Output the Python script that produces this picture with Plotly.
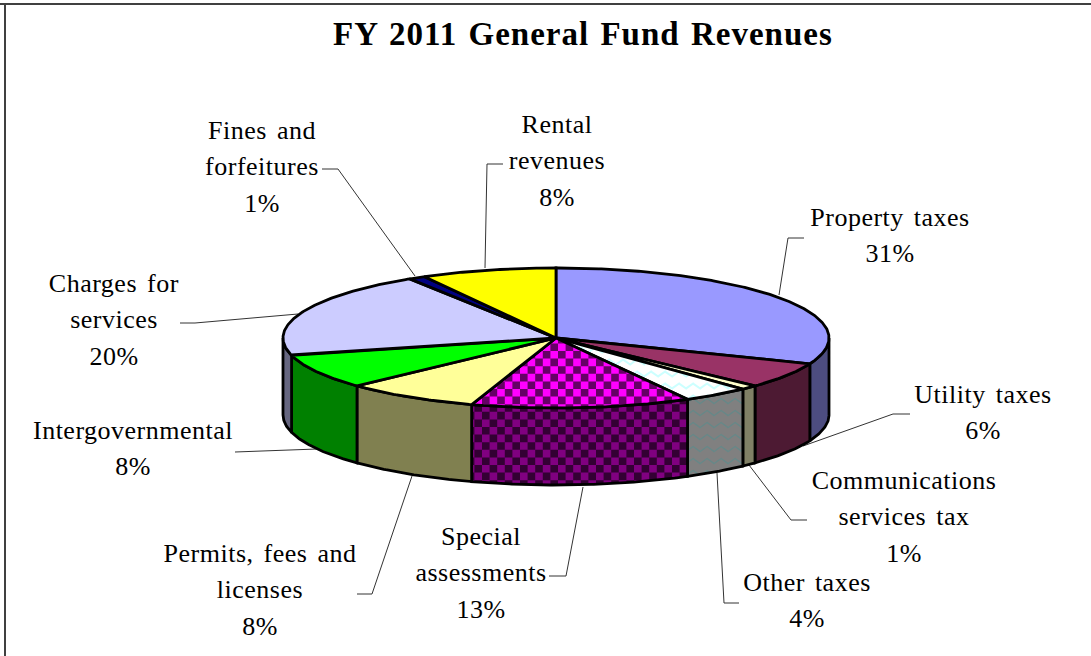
import numpy as np
import plotly.graph_objects as go

# ---- data ----
categories = ["Property taxes", "Utility taxes", "Communications services tax", "Other taxes",
              "Special assessments", "Permits, fees and licenses", "Intergovernmental",
              "Charges for services", "Fines and forfeitures", "Rental revenues"]
values = [31, 6, 1, 4, 13, 8, 8, 20, 1, 8]
top_colors = ["#9999FF", "#993366", "#FFFFCC", "#FFFFFF", "#FF00FF",
              "#FFFF99", "#00FF00", "#CCCCFF", "#000080", "#FFFF00"]
side_colors = ["#4D4D80", "#4D1A33", "#808066", "#808080", "#800080",
               "#808050", "#008000", "#666680", "#000040", "#808000"]
title_text = "FY 2011 General Fund Revenues"
label_lines = [["Property taxes"], ["Utility taxes"], ["Communications", "services tax"],
               ["Other taxes"], ["Special", "assessments"], ["Permits, fees and", "licenses"],
               ["Intergovernmental"], ["Charges for", "services"], ["Fines and", "forfeitures"],
               ["Rental", "revenues"]]

# ---- layout constants (pixels) ----
W, H = 1091, 656
CX, CY, RX, RY, DEPTH = 556, 338, 273, 70, 77
FONT = "Liberation Serif"
label_pos = [(890, 217), (983, 394), (904, 480), (807, 582), (481, 536),
             (260, 553), (133, 430), (114, 283), (262, 130), (557, 124)]
LINE_GAP = 36.7
leaders = [
    [(779, 295), (788, 238), (804, 238)],
    [(803, 446), (893, 414), (910, 414)],
    [(749, 465), (791, 520), (807, 520)],
    [(717, 473), (724, 603), (739, 603)],
    [(583, 487), (566, 576), (549, 576)],
    [(412, 476), (372, 594), (357, 594)],
    [(317, 449), (235, 452)],
    [(298, 314), (195, 323), (180, 323)],
    [(415, 276), (338, 169), (322, 169)],
    [(485, 268), (487, 164), (503, 164)],
]


def ell(theta, dy=0.0):
    t = np.radians(theta)
    return CX + RX * np.sin(t), CY - RY * np.cos(t) + dy


def sector(a, b):
    th = np.linspace(a, b, max(4, int(abs(b - a) * 2)))
    x, y = ell(th)
    return [(CX, CY)] + list(zip(x, y)) + [(CX, CY)]


def wall(a, b):
    th = np.linspace(a, b, max(4, int(abs(b - a) * 2)))
    x, y = ell(th)
    xb, yb = ell(th[::-1], DEPTH)
    pts = list(zip(x, y)) + list(zip(xb, yb))
    return pts + [pts[0]]


def clip_rect(poly, x0, y0, x1, y1):
    def run(pts, inside, cross):
        out = []
        for i, p in enumerate(pts):
            q = pts[i - 1]
            if inside(p):
                if not inside(q):
                    out.append(cross(q, p))
                out.append(p)
            elif inside(q):
                out.append(cross(q, p))
        return out

    def cx(v):
        return lambda a, b: (v, a[1] + (b[1] - a[1]) * (v - a[0]) / (b[0] - a[0]))

    def cy(v):
        return lambda a, b: (a[0] + (b[0] - a[0]) * (v - a[1]) / (b[1] - a[1]), v)

    pts = list(poly[:-1])
    for inside, cross in [(lambda p: p[0] >= x0, cx(x0)), (lambda p: p[0] <= x1, cx(x1)),
                          (lambda p: p[1] >= y0, cy(y0)), (lambda p: p[1] <= y1, cy(y1))]:
        if not pts:
            return []
        pts = run(pts, inside, cross)
    return pts


def checker_xy(poly, pitch=7.6, ox=558.0, oy=351.0):
    xs, ys = [], []
    px = [p[0] for p in poly]
    py = [p[1] for p in poly]
    i0, i1 = int(np.floor((min(px) - ox) / pitch)), int(np.ceil((max(px) - ox) / pitch))
    j0, j1 = int(np.floor((min(py) - oy) / pitch)), int(np.ceil((max(py) - oy) / pitch))
    for i in range(i0, i1 + 1):
        for j in range(j0, j1 + 1):
            if (i + j) % 2:
                continue
            c = clip_rect(poly, ox + i * pitch, oy + j * pitch, ox + (i + 1) * pitch, oy + (j + 1) * pitch)
            if len(c) >= 3:
                xs += [p[0] for p in c] + [c[0][0], None]
                ys += [p[1] for p in c] + [c[0][1], None]
    return xs, ys


def inside_poly(x, y, poly):
    px = np.array([p[0] for p in poly])
    py = np.array([p[1] for p in poly])
    c = False
    for i in range(len(px) - 1):
        if (py[i] > y) != (py[i + 1] > y) and x < (px[i + 1] - px[i]) * (y - py[i]) / (py[i + 1] - py[i]) + px[i]:
            c = not c
    return c


def zigzag_xy(poly, period=14.0, amp=2.6, gap=12.0):
    xs, ys = [], []
    px = [p[0] for p in poly]
    py = [p[1] for p in poly]
    for y0 in np.arange(min(py) - gap, max(py) + gap, gap):
        last = False
        for x in np.arange(min(px), max(px) + 1, 0.7):
            ph = (x % period) / period
            y = y0 + amp * (abs(2 * ph - 1) * 2 - 1)
            ok = inside_poly(x, y, poly)
            if ok:
                xs.append(x)
                ys.append(y)
            elif last:
                xs.append(None)
                ys.append(None)
            last = ok
        xs.append(None)
        ys.append(None)
    return xs, ys


fig = go.Figure()


def area(poly, color):
    fig.add_trace(go.Scatter(x=[p[0] for p in poly], y=[p[1] for p in poly], mode="lines",
                             fill="toself", fillcolor=color, line=dict(width=0),
                             showlegend=False, hoverinfo="skip"))


def outline(poly):
    fig.add_trace(go.Scatter(x=[p[0] for p in poly], y=[p[1] for p in poly], mode="lines",
                             line=dict(color="black", width=2.8), showlegend=False, hoverinfo="skip"))


def checker(poly, color):
    x, y = checker_xy(poly)
    fig.add_trace(go.Scatter(x=x, y=y, mode="lines", fill="toself", fillcolor=color,
                             line=dict(width=0), showlegend=False, hoverinfo="skip"))


def zigzag(poly, color, width):
    x, y = zigzag_xy(poly)
    fig.add_trace(go.Scatter(x=x, y=y, mode="lines", line=dict(color=color, width=width),
                             showlegend=False, hoverinfo="skip"))


# leaders go underneath the pie
edges = np.concatenate([[0], np.cumsum(values)]) / sum(values) * 360
for pts in leaders:
    fig.add_trace(go.Scatter(x=[p[0] for p in pts], y=[p[1] for p in pts], mode="lines",
                             line=dict(color="#333333", width=1), showlegend=False, hoverinfo="skip"))

# side walls (front half of the ellipse only)
for k, name in enumerate(categories):
    a, b = max(edges[k], 90), min(edges[k + 1], 270)
    if b <= a:
        continue
    poly = wall(a, b)
    area(poly, side_colors[k])
    if name == "Special assessments":
        checker(poly, "#330033")
    if name == "Other taxes":
        zigzag(poly, "#668888", 1.4)
    outline(poly)

# top faces
for k, name in enumerate(categories):
    poly = sector(edges[k], edges[k + 1])
    area(poly, top_colors[k])
    if name == "Special assessments":
        checker(poly, "#660066")
    if name == "Other taxes":
        zigzag(poly, "#CCFFFF", 2)
    outline(poly)

annos = [dict(x=582.5, y=34, text="<b>%s</b>" % title_text, showarrow=False, width=700,
              font=dict(family=FONT, size=33, color="black"), xanchor="center", yanchor="middle")]
for k, lines in enumerate(label_lines):
    lx, ly = label_pos[k]
    rows = lines + ["%d%%" % values[k]]
    for n, row in enumerate(rows):
        annos.append(dict(x=lx, y=ly + n * LINE_GAP, text=row, showarrow=False, width=320,
                          font=dict(family=FONT, size=26, color="black"),
                          xanchor="center", yanchor="middle"))

shapes = [
    dict(type="line", x0=0, x1=W, y0=4, y1=4, line=dict(color="#404040", width=2)),
    dict(type="line", x0=5, x1=5, y0=3, y1=H, line=dict(color="#404040", width=2)),
]

fig.update_layout(width=W, height=H, margin=dict(l=0, r=0, t=0, b=0),
                  paper_bgcolor="white", plot_bgcolor="white", showlegend=False,
                  xaxis=dict(range=[0, W], visible=False, fixedrange=True),
                  yaxis=dict(range=[H, 0], visible=False, fixedrange=True),
                  annotations=annos, shapes=shapes)

spacing_js = """
document.body.style.margin = '0';
document.querySelectorAll('.annotation-text').forEach(function (t, i) {
  t.style.letterSpacing = (i === 0 ? '1px' : '0.5px');
  t.style.wordSpacing = (i === 0 ? '2px' : '3px');
});
"""
fig.write_html("out.html", config={"displayModeBar": False}, post_script=spacing_js)
